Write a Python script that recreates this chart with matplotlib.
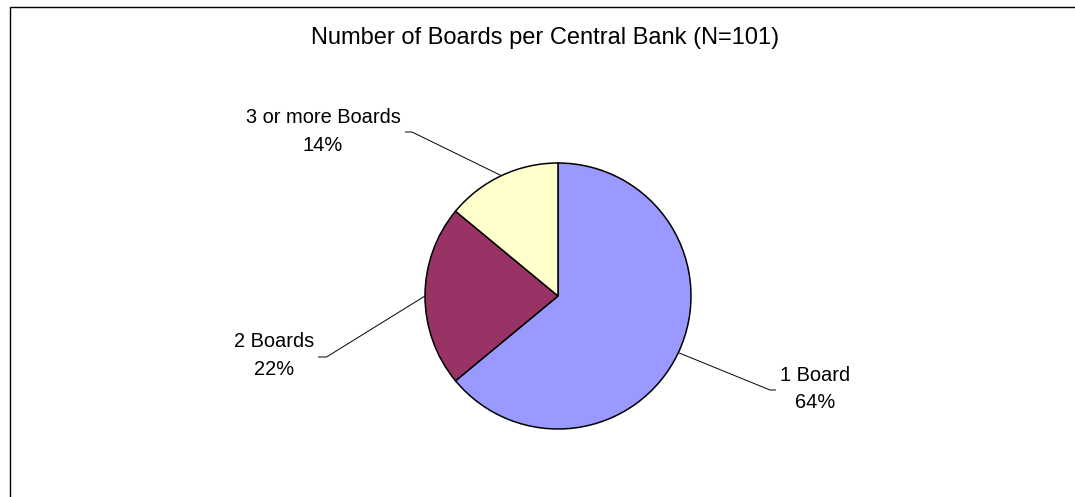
import numpy as np
import matplotlib
matplotlib.use("Agg")
import matplotlib.pyplot as plt
from matplotlib.patches import Rectangle

plt.rcParams['font.family'] = ['Liberation Sans', 'DejaVu Sans']

# Chart data
categories = ["1 Board", "2 Boards", "3 or more Boards"]
shares = [64, 22, 14]
colors = ["#9999FF", "#993366", "#FFFFCC"]
title = "Number of Boards per Central Bank (N=101)"

W, H = 1075, 497
fig = plt.figure(figsize=(W / 100, H / 100), dpi=100)
ax = fig.add_axes([0, 0, 1, 1])

# pie geometry in pixel space (y measured from bottom)
cx, cy, r = 558, H - 296, 133

wedges, _ = ax.pie(shares, colors=colors, startangle=90, counterclock=False,
                   center=(cx, cy), radius=r,
                   wedgeprops=dict(edgecolor='black', linewidth=1.1),
                   frame=True)
ax.set_xlim(0, W)
ax.set_ylim(0, H)
ax.set_aspect('equal')
ax.axis('off')

# label placement (pixels from top-left):
# text centre x, baseline of name line, baseline of percent line,
# leader elbow x, leader end x, leader y
label_layout = [
    (815, 381, 408.5, 770, 776, 390),
    (274, 347, 375, 326.5, 318, 357),
    (323, 123.3, 151, 412, 405, 132),
]

for w, name, val, (tx, y1, y2, ex, endx, ly) in zip(wedges, categories, shares, label_layout):
    mid = np.deg2rad((w.theta1 + w.theta2) / 2)
    px, py = cx + r * np.cos(mid), cy + r * np.sin(mid)
    ax.plot([px, ex, endx], [py, H - ly, H - ly], color='black', lw=0.7,
            solid_capstyle='butt')
    ax.text(tx, H - y1, name, ha='center', va='baseline', fontsize=14.4,
            color='black')
    ax.text(tx, H - y2, f"{val}%", ha='center', va='baseline', fontsize=14.4,
            color='black')

ax.text(545, H - 44, title, ha='center', va='baseline', fontsize=17,
        color='black')

# outer frame of the chart area
fig.patches.append(Rectangle((9.5 / W, -0.1), 1.2, (H - 6.5) / H + 0.1,
                             transform=fig.transFigure, fill=False,
                             edgecolor='black', linewidth=1.0))

fig.savefig("out.png", dpi=100)
